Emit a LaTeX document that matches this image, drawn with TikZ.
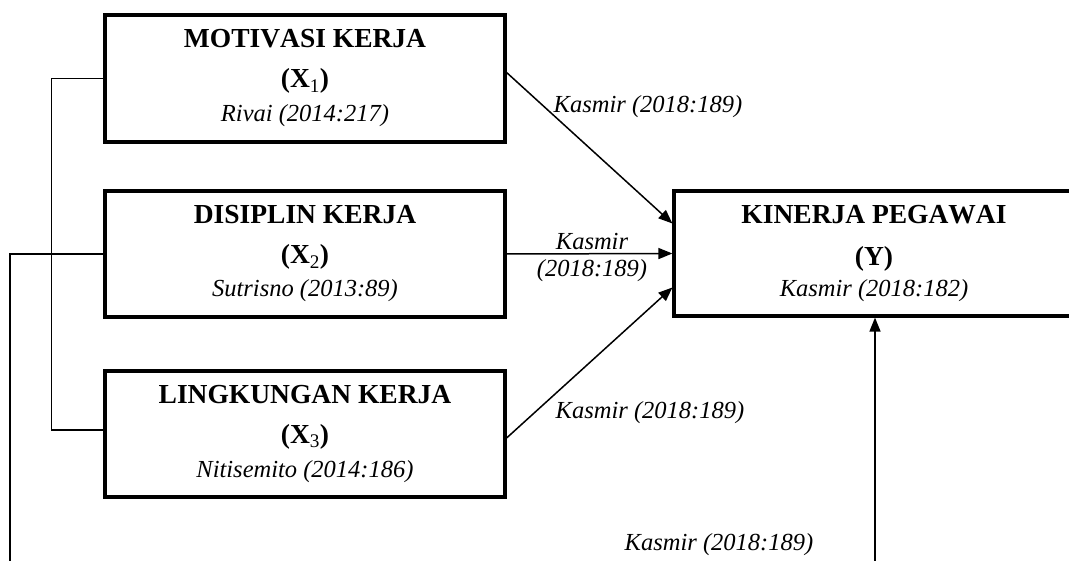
\documentclass[tikz,border=0pt]{standalone}
\usepackage{fontspec}
\setmainfont{Liberation Serif}[Kerning=Off]
\usetikzlibrary{arrows.meta}
\begin{document}
\begin{tikzpicture}[x=1pt,y=-1pt,
  varbox/.style={draw, line width=3.2pt, minimum width=400pt, align=center, inner sep=0pt, font=\fontsize{27.5}{40}\selectfont},
  conn/.style={line width=1.5pt},
  arr/.style={conn, -{Triangle[length=14pt,width=11pt]}},
  cite/.style={font=\fontsize{24.5}{27}\selectfont\itshape, inner sep=0pt, anchor=base}
]
\useasboundingbox (0,0) rectangle (1069,561);

\node[varbox, minimum height=127pt] (x1) at (305,78.5)
  {\textbf{MOTIVASI KERJA}\\\textbf{(X\textsubscript{\mdseries 1})}\\[-6pt]{\fontsize{24.5}{27}\selectfont\itshape Rivai (2014:217)}};
\node[varbox, minimum height=126pt] (x2) at (305,254)
  {\textbf{DISIPLIN KERJA}\\\textbf{(X\textsubscript{\mdseries 2})}\\[-7pt]{\fontsize{24.5}{27}\selectfont\itshape Sutrisno (2013:89)}};
\node[varbox, minimum height=126pt] (x3) at (305,434)
  {\textbf{LINGKUNGAN KERJA}\\\textbf{(X\textsubscript{\mdseries 3})}\\[-6pt]{\fontsize{24.5}{27}\selectfont\itshape Nitisemito (2014:186)}};
\node[varbox, minimum height=125pt] (y) at (874,253.5)
  {\textbf{KINERJA PEGAWAI}\\[2pt]\textbf{(Y)}\\[-9pt]{\fontsize{24.5}{27}\selectfont\itshape Kasmir (2018:182)}};

\coordinate (ybot) at (875,561);
\coordinate (lbot) at (10,561);

\draw[arr] ([yshift=6pt]x1.east) -- ([yshift=30pt]y.west);
\draw[arr] (x2.east) -- (y.west);
\draw[arr] ([yshift=-4pt]x3.east) -- ([yshift=-34pt]y.west);
\draw[arr] (ybot) -- (ybot |- y.south);
\draw[conn] (x2.west) -| (lbot);
\draw[conn] (x1.west) -- ++(-52,0) |- ([yshift=4pt]x3.west);

\node[cite] (l1) at (648,113) {Kasmir (2018:189)};
\node[cite, anchor=center, align=center] (l2) at (592,257) {Kasmir\\(2018:189)};
\node[cite] (l3) at (650,418) {Kasmir (2018:189)};
\node[cite] (l4) at (719,550) {Kasmir (2018:189)};
\end{tikzpicture}
\end{document}
